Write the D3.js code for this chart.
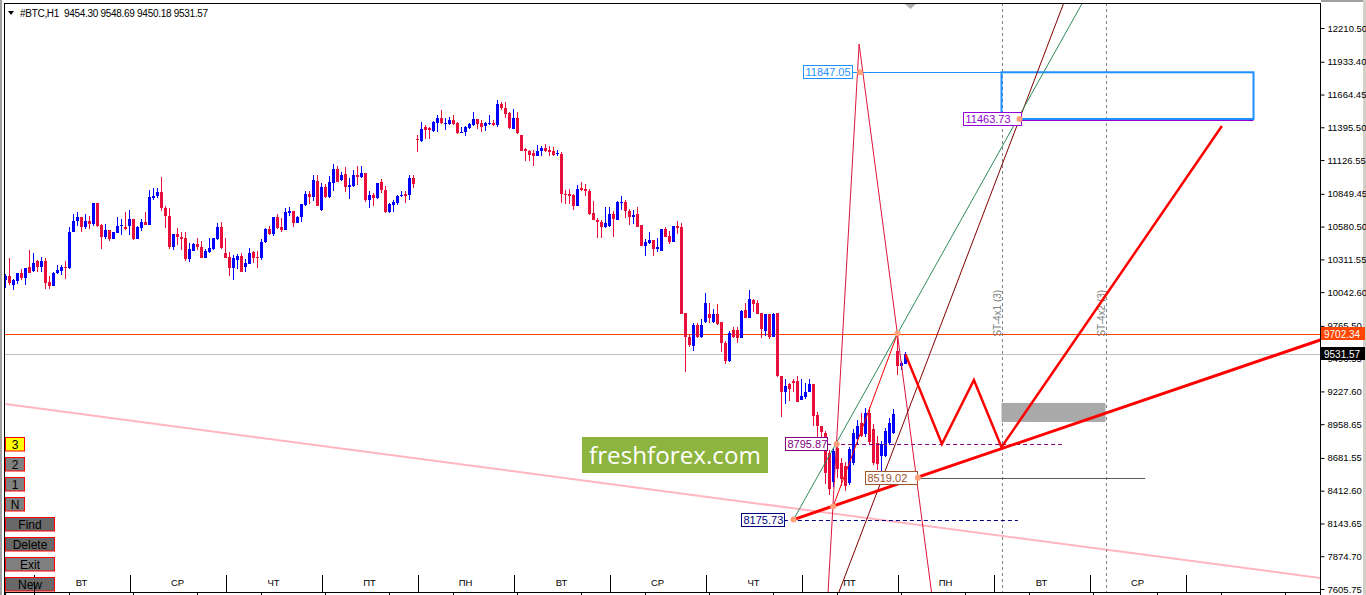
<!DOCTYPE html>
<html><head><meta charset="utf-8">
<script src="https://cdn.jsdelivr.net/npm/d3@7/dist/d3.min.js"></script>
<style>
html,body{margin:0;padding:0;background:#fff;overflow:hidden}
svg{display:block;font-family:"Liberation Sans",Arial,sans-serif}
</style></head><body>
<svg id="chart" width="1366" height="595"></svg>
<script>
// ================= DATA =================
const symbolTitle = "#BTC,H1  9454.30 9548.69 9450.18 9531.57";
const priceTicks = [12210.50,11933.40,11664.45,11395.50,11126.55,10849.45,10580.50,10311.55,10042.60,9765.50,9496.55,9227.60,8958.65,8681.55,8412.60,8143.65,7874.70,7605.75];
const dayNames = ["ВТ","СР","ЧТ","ПТ","ПН","ВТ","СР","ЧТ","ПТ","ПН","ВТ","СР"];
const dayStartBars = [7,31,55,79,103,127,151,175,199,223,247,271,295];
const buttonLabels = ["3","2","1","N","Find","Delete","Exit","New"];
const bidPrice = 9531.57;
const alertPrice = 9702.34;

// H1 candles: [open, high, low, close]
const ohlc = [
[10142,10188,10079,10174],[10174,10319,10098,10114],[10098,10153,10057,10142],[10134,10202,10109,10196],
[10196,10229,10142,10155],[10161,10243,10098,10237],[10245,10385,10196,10202],[10215,10366,10210,10284],
[10295,10303,10210,10251],[10251,10333,10207,10295],[10295,10319,10068,10114],[10123,10174,10068,10093],
[10093,10207,10093,10202],[10196,10262,10188,10221],[10218,10262,10185,10245],[10248,10297,10147,10240],
[10237,10579,10232,10538],[10535,10685,10535,10630],[10625,10701,10584,10660],[10660,10660,10535,10576],
[10576,10680,10562,10630],[10630,10671,10557,10603],[10598,10778,10589,10778],[10772,10778,10579,10584],
[10595,10600,10393,10494],[10497,10603,10475,10549],[10549,10549,10461,10475],[10475,10535,10475,10535],
[10524,10660,10524,10589],[10584,10639,10508,10592],[10579,10704,10551,10557],[10589,10720,10508,10644],
[10644,10644,10467,10475],[10480,10589,10475,10573],[10565,10639,10543,10622],[10622,10704,10592,10592],
[10592,10884,10592,10827],[10819,10898,10802,10835],[10830,10898,10819,10868],[10868,10991,10707,10731],
[10731,10748,10565,10666],[10671,10734,10398,10409],[10415,10516,10387,10516],[10516,10565,10426,10494],
[10499,10538,10387,10475],[10483,10538,10297,10311],[10311,10442,10289,10393],[10379,10447,10377,10434],
[10434,10488,10387,10409],[10415,10461,10319,10322],[10322,10393,10322,10377],[10371,10483,10366,10401],
[10393,10488,10387,10483],[10475,10611,10467,10573],[10573,10622,10393,10404],[10360,10488,10319,10325],
[10333,10371,10174,10237],[10237,10346,10142,10319],[10303,10352,10229,10336],[10336,10366,10207,10210],
[10251,10311,10207,10278],[10276,10401,10270,10360],[10371,10379,10284,10325],[10330,10379,10240,10322],
[10319,10475,10306,10450],[10450,10568,10447,10557],[10557,10584,10510,10516],[10516,10663,10502,10663],
[10663,10680,10562,10570],[10573,10650,10535,10551],[10551,10734,10551,10699],[10693,10742,10671,10707],
[10707,10707,10576,10614],[10614,10671,10611,10660],[10658,10767,10620,10767],[10756,10871,10753,10852],
[10846,10876,10767,10827],[10827,11007,10789,10966],[10958,11002,10748,10748],[10720,10939,10707,10903],
[10903,10931,10816,10822],[10822,10994,10819,10944],[10939,11095,10871,11054],[11054,11075,10944,10950],
[10961,11026,10953,11007],[11015,11070,10862,10903],[10903,10980,10811,10920],[10912,11048,10906,11007],
[11007,11075,10920,10985],[10985,11081,10980,11024],[11024,11024,10781,10802],[10802,10871,10729,10838],
[10838,10857,10748,10813],[10813,10942,10811,10942],[10950,10974,10857,10879],[10884,10912,10693,10701],
[10699,10775,10696,10767],[10761,10802,10699,10781],[10770,10838,10761,10835],[10830,10876,10827,10843],
[10849,10871,10775,10830],[10838,11007,10797,10980],[10980,11007,10898,10933],
[11302,11329,11190,11288],[11285,11435,11277,11384],[11395,11416,11302,11370],[11386,11395,11302,11370],
[11367,11444,11354,11435],[11427,11498,11359,11474],[11474,11539,11424,11430],[11427,11471,11375,11433],
[11424,11482,11416,11455],[11455,11498,11416,11424],[11433,11438,11337,11351],[11351,11397,11345,11359],
[11354,11408,11321,11400],[11392,11430,11381,11419],[11411,11523,11408,11465],[11465,11465,11381,11424],
[11433,11457,11356,11397],[11403,11441,11367,11427],[11422,11498,11411,11433],[11433,11457,11403,11411],
[11411,11616,11395,11588],[11588,11599,11539,11550],[11556,11599,11474,11501],[11515,11523,11384,11389],
[11384,11547,11384,11474],[11474,11523,11343,11345],[11334,11334,11198,11203],[11214,11223,11116,11198],
[11203,11212,11121,11171],[11187,11206,11081,11157],[11157,11250,11157,11203],[11198,11239,11157,11228],
[11228,11255,11190,11203],[11212,11244,11160,11193],[11203,11231,11162,11171],[11173,11212,11162,11182],
[11179,11195,10778,10851],[10851,10884,10767,10843],[10849,10892,10767,10835],[10843,10851,10715,10753],
[10753,10925,10753,10889],[10900,10950,10870,10884],[10892,10928,10835,10870],[10876,10887,10679,10687],
[10693,10794,10633,10633],[10638,10649,10488,10616],[10619,10638,10485,10576],[10576,10742,10567,10614],
[10584,10742,10578,10687],[10687,10707,10499,10641],[10633,10789,10633,10786],[10780,10830,10720,10786],
[10786,10802,10649,10709],[10712,10726,10597,10657],[10657,10720,10605,10679],[10685,10742,10573,10573],
[10595,10595,10420,10425],[10425,10480,10343,10453],[10442,10537,10439,10472],[10472,10472,10338,10395],
[10393,10488,10371,10414],[10382,10557,10376,10557],[10557,10578,10499,10499],[10507,10543,10439,10458],
[10453,10584,10453,10584],[10589,10625,10521,10565],[10573,10611,9860,9866],[9874,9874,9383,9677],
[9677,9690,9590,9606],[9601,9792,9560,9773],[9773,9790,9665,9677],[9677,9819,9665,9773],
[9798,10032,9792,9956],[9866,9956,9792,9833],[9798,9901,9790,9866],[9866,9942,9773,9778],
[9798,9798,9550,9628],[9628,9640,9451,9478],[9478,9724,9470,9710],[9732,9757,9669,9677],
[9732,9759,9628,9664],[9664,9896,9664,9888],[9896,9956,9830,9833],[9833,10057,9828,9983],
[9978,9983,9882,9942],[9956,9978,9866,9866],[9874,9874,9669,9737],[9724,9866,9683,9860],
[9860,9866,9661,9677],[9677,9874,9677,9866],[9874,9874,9342,9355],[9355,9355,9014,9219],
[9219,9328,9123,9273],[9287,9300,9150,9246],[9314,9333,9219,9295],[9314,9355,9137,9142],
[9159,9333,9159,9186],[9178,9295,9164,9219],[9219,9333,9219,9292],[9292,9292,8946,9028],
[9033,9055,8850,8946],[8946,8946,8837,8891],[8890,8905,8470,8560],[8720,8750,8380,8430],
[8480,8760,8440,8740],[8760,8800,8520,8590],[8643,8680,8452,8507],[8616,8650,8411,8452],
[8479,8770,8460,8752],[8643,8920,8620,8889],[8834,8990,8800,8943],[8970,9050,8850,8862],
[8875,9090,8850,9050],[9050,9100,8800,8810],[8916,8960,8620,8643],[8807,8860,8580,8630],
[8700,8820,8560,8793],[8700,8930,8690,8900],[8807,9010,8790,8970],[8890,9080,8880,9040],
[9560,9702,9360,9440],[9437,9480,9400,9464],[9454.30,9548.69,9450.18,9531.57]
];

// Drawn objects, in (bar index, price)
const pinkTrend    = [[0,9124],[328.7,7696]];
const redTrend     = [[197,8175.73],[328.7,9649.6]];
const greenRay     = [[197,8175.73],[223,9702.34]];
const thinRedLine  = [[206.9,8283],[223,9702.34]];
const maroonLine   = [[208,7550],[266,12539]];
const crimsonWedge = [[205.6,7556],[213.4,12079],[231.6,7556]];
const zigzag       = [[225,9531.57],[234.1,8795.87],[242.1,9321],[249,8770],[304.1,11406]];
const blueBox      = [[249,11847.05],[312,11463.73]];
const grayBox      = [[249,9133],[275,8977]];
const stLines      = [{bar:249,name:"ST-4x1 (3)"},{bar:275,name:"ST-4x2 (3)"}];
const priceLabels  = [
  {text:"11847.05", price:11847.05, from:199.4, to:211.6, lineTo:312},
  {text:"11463.73", price:11463.73, from:239.4, to:253.9, lineTo:312},
  {text:"8795.87",  price:8795.87,  from:194.9, to:205.4, lineTo:264.1},
  {text:"8519.02",  price:8519.02,  from:214.9, to:227.9, lineTo:284.9},
  {text:"8175.73",  price:8175.73,  from:183.9, to:194.6, lineTo:253.1}
];
const anchorPoints = [[213.6,11847.05],[253.5,11463.73],[207.8,8795.87],[228.1,8519.02],[206.9,8283],[197,8175.73],[223,9702.34]];
const logoText = "freshforex.com";

// ================= STYLES =================
const bullColor = "#0000ff", bearColor = "#e8103a";
const labelStyles = [
  {stroke:"#1e90ff", lineW:1, dash:null},
  {stroke:"#9400d3", lineW:3, dash:null},
  {stroke:"#800080", lineW:1, dash:"4,3"},
  {stroke:"#a0522d", lineW:1, dash:null, lineColor:"#5a5a5a"},
  {stroke:"#000080", lineW:1, dash:"4,3"}
];

// ================= SCALES =================
const svg = d3.select("#chart");
const plot = {left:4, top:3, right:1320, bottom:592};
const x = d3.scaleLinear().domain([0,1]).range([5.5,9.5]);
const y = d3.scaleLinear().domain([7605.75,12210.5]).range([589,28]);
const line = d3.line().x(d=>x(d[0])).y(d=>y(d[1]));

// window frame
svg.append("rect").attr("width",1366).attr("height",595).attr("fill","#fff");
svg.append("rect").attr("x",0).attr("y",0).attr("width",2).attr("height",595).attr("fill","#a0a0a0");
svg.append("rect").attr("x",1321).attr("y",0).attr("width",45).attr("height",2).attr("fill","#a0a0a0");
svg.append("rect").attr("x",1363).attr("y",0).attr("width",3).attr("height",595).attr("fill","#d4d0c8");

svg.append("defs").append("clipPath").attr("id","pc").append("rect")
  .attr("x",plot.left).attr("y",plot.top).attr("width",plot.right-plot.left).attr("height",plot.bottom-plot.top);
const g = svg.append("g").attr("clip-path","url(#pc)");

// day separators & labels at the bottom strip
const sepG = g.append("g").attr("shape-rendering","crispEdges");
sepG.selectAll("line").data(dayStartBars).join("line")
  .attr("x1",d=>Math.round(x(d))+0.5).attr("x2",d=>Math.round(x(d))+0.5)
  .attr("y1",575).attr("y2",592).attr("stroke","#000");
sepG.selectAll("text").data(dayNames).join("text")
  .attr("x",(d,i)=>x(dayStartBars[i])+48).attr("y",586)
  .attr("text-anchor","middle").attr("font-size",9.5).attr("fill","#000").text(d=>d);

// pink trend
g.append("path").attr("d",line(pinkTrend)).attr("stroke","#ffb6c1").attr("stroke-width",2).attr("fill","none");

// bid & alert lines
g.append("line").attr("x1",plot.left).attr("x2",plot.right).attr("y1",Math.round(y(bidPrice))+0.5).attr("y2",Math.round(y(bidPrice))+0.5)
  .attr("stroke","#c0c0c0");
g.append("line").attr("x1",plot.left).attr("x2",plot.right).attr("y1",Math.round(y(alertPrice))+0.5).attr("y2",Math.round(y(alertPrice))+0.5)
  .attr("stroke","#ff4500");

// vertical ST dashed lines
stLines.forEach(s=>{
  const xx = Math.round(x(s.bar))+0.5;
  g.append("line").attr("x1",xx).attr("x2",xx).attr("y1",plot.top).attr("y2",plot.bottom)
    .attr("stroke","#808080").attr("stroke-dasharray","3,3");
  g.append("text").attr("transform",`translate(${xx-2},${y(alertPrice)+3}) rotate(-90)`)
    .attr("font-size",10).attr("fill","#808080").text(s.name);
});

// gray box
g.append("rect").attr("x",x(grayBox[0][0])).attr("y",y(grayBox[0][1]))
  .attr("width",x(grayBox[1][0])-x(grayBox[0][0])).attr("height",y(grayBox[1][1])-y(grayBox[0][1]))
  .attr("fill","#a9a9a9");

// candles
const cg = g.append("g").attr("shape-rendering","crispEdges");
const col = d=> d[3]>=d[0]?bullColor:bearColor;
cg.selectAll("line").data(ohlc).join("line")
  .attr("x1",(d,i)=>x(i)).attr("x2",(d,i)=>x(i))
  .attr("y1",d=>y(d[1])).attr("y2",d=>y(d[2])).attr("stroke",col);
cg.selectAll("rect").data(ohlc).join("rect")
  .attr("x",(d,i)=>x(i)-1.5).attr("width",3)
  .attr("y",d=>y(Math.max(d[0],d[3])))
  .attr("height",d=>Math.max(1,Math.abs(y(d[0])-y(d[3]))))
  .attr("fill",col);

// level lines
priceLabels.forEach((p,k)=>{
  const st = labelStyles[k];
  const yy = Math.round(y(p.price))+0.5;
  g.append("line").attr("x1",x(p.to)).attr("x2",x(p.lineTo)).attr("y1",yy).attr("y2",yy)
    .attr("stroke",st.lineColor||st.stroke).attr("stroke-width",st.lineW)
    .attr("stroke-dasharray",st.dash);
});

// blue box
g.append("rect").attr("x",x(blueBox[0][0])).attr("y",y(blueBox[0][1]))
  .attr("width",x(blueBox[1][0])-x(blueBox[0][0])).attr("height",y(blueBox[1][1])-y(blueBox[0][1]))
  .attr("fill","none").attr("stroke","#1e90ff").attr("stroke-width",2);

// trend lines
g.append("path").attr("d",line(crimsonWedge)).attr("stroke","#dc143c").attr("fill","none");
g.append("path").attr("d",line(maroonLine)).attr("stroke","#800000").attr("fill","none");
const gs = (greenRay[1][1]-greenRay[0][1])/(greenRay[1][0]-greenRay[0][0]);
g.append("path").attr("d",line([greenRay[0],[285, greenRay[0][1]+gs*(285-greenRay[0][0])]]))
  .attr("stroke","#2e8b57").attr("fill","none");
g.append("path").attr("d",line(thinRedLine)).attr("stroke","#ff0000").attr("fill","none");
g.append("path").attr("d",line(redTrend)).attr("stroke","#ff0000").attr("stroke-width",3).attr("fill","none");
g.append("path").attr("d",line(zigzag)).attr("stroke","#ff0000").attr("stroke-width",2.5).attr("fill","none")
  .attr("stroke-linejoin","miter");

// price label boxes
priceLabels.forEach((p,k)=>{
  const st = labelStyles[k];
  const yy = Math.round(y(p.price));
  const x0 = Math.round(x(p.from))+0.5, x1 = Math.round(x(p.to))+0.5;
  g.append("rect").attr("x",x0).attr("y",yy-6.5).attr("width",x1-x0).attr("height",13)
    .attr("fill","#fff").attr("stroke",st.stroke);
  g.append("text").attr("x",x0+2).attr("y",yy+4).attr("font-size",11).attr("fill",st.stroke).text(p.text);
});

// anchor markers
g.selectAll("circle.m").data(anchorPoints).join("circle").attr("class","m")
  .attr("cx",d=>x(d[0])).attr("cy",d=>y(d[1])).attr("r",3).attr("fill","#ffa07a");

// logo
const lg = svg.append("g");
lg.append("rect").attr("x",582).attr("y",437).attr("width",186).attr("height",36).attr("fill","#8cb43e");
const lt = lg.append("text").attr("x",675).attr("y",464).attr("text-anchor","middle")
  .attr("font-family","'Open Sans',sans-serif").attr("font-size",26).attr("fill","#fff").text(logoText);
const lw = lt.node().getComputedTextLength();
lt.attr("font-size",26*172/lw);

// frame
const fr = svg.append("g").attr("shape-rendering","crispEdges");
fr.append("line").attr("x1",4.5).attr("x2",4.5).attr("y1",3).attr("y2",595).attr("stroke","#000");
fr.append("line").attr("x1",4).attr("x2",1321).attr("y1",3.5).attr("y2",3.5).attr("stroke","#000");
fr.append("line").attr("x1",4).attr("x2",1321).attr("y1",592.5).attr("y2",592.5).attr("stroke","#000");
fr.selectAll("line.bt").data(d3.range(0,330,16)).join("line").attr("class","bt")
  .attr("x1",d=>x(d)).attr("x2",d=>x(d)).attr("y1",592).attr("y2",595).attr("stroke","#000");

// shift marker
svg.append("path").attr("d","M905,4 L916,4 L910.5,9 Z").attr("fill","#b0b0b0");

// header
svg.append("path").attr("d","M8,11 L14,11 L11,15 Z").attr("fill","#000");
svg.append("text").attr("x",20).attr("y",17).attr("font-size",10).style("white-space","pre")
  .attr("textLength",188).attr("lengthAdjust","spacing").attr("fill","#000").text(symbolTitle);

// price axis
const ax = svg.append("g").attr("transform","translate(1320.5,0)")
  .call(d3.axisRight(y).tickValues(priceTicks).tickSize(4).tickPadding(3).tickFormat(d3.format(".2f")));
ax.select(".domain").attr("d","M0,3V595").attr("stroke","#000");
ax.selectAll("text").attr("font-size",9.5).attr("font-family","'Liberation Sans',Arial,sans-serif").attr("fill","#000");
ax.selectAll("line").attr("stroke","#000");

// price tags
[[alertPrice,"#ff4500"],[bidPrice,"#000"]].forEach(([p,c])=>{
  const yy = Math.round(y(p));
  svg.append("rect").attr("x",1321).attr("y",yy-7).attr("width",44).attr("height",13).attr("fill",c);
  svg.append("text").attr("x",1324).attr("y",yy+4).attr("font-size",10).attr("fill","#fff").text(p.toFixed(2));
});

// buttons
const bw = d=> d.length>1?49:19;
const bfill = {"3":"#ffff00","2":"#808080","1":"#808080","N":"#808080","Find":"#696969","Delete":"#696969","Exit":"#808080","New":"#696969"};
const bg = svg.append("g");
buttonLabels.forEach((b,k)=>{
  const yy = 437.5+20*k;
  bg.append("rect").attr("x",5.5).attr("y",yy).attr("width",bw(b)).attr("height",13.5)
    .attr("fill",bfill[b]).attr("stroke","#ff0000");
  bg.append("text").attr("x",5.5+bw(b)/2).attr("y",yy+11).attr("text-anchor","middle")
    .attr("font-size",12).attr("fill","#000").text(b);
});
// day separator over the New button
svg.append("line").attr("x1",Math.round(x(dayStartBars[0]))+0.5).attr("x2",Math.round(x(dayStartBars[0]))+0.5)
  .attr("y1",582).attr("y2",595).attr("stroke","#000");
</script>
</body></html>
